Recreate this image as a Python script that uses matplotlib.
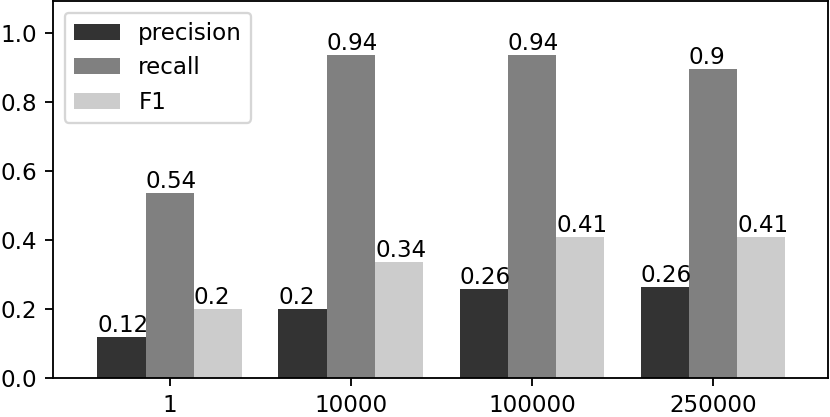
import numpy as np
import matplotlib
matplotlib.use("Agg")
import matplotlib.pyplot as plt

# sample sizes on the x axis
categories = ["1", "10000", "100000", "250000"]

precision = [0.12, 0.2, 0.258, 0.263]
recall = [0.537, 0.937, 0.937, 0.897]
f1 = [0.2, 0.337, 0.409, 0.409]

series = {
    "precision": (precision, "#333333"),
    "recall": (recall, "#808080"),
    "F1": (f1, "#cccccc"),
}

fig = plt.figure(figsize=(830 / 166, 417 / 166), dpi=166)
ax = fig.add_axes([53 / 830, 39 / 417, 775 / 830, 377 / 417])

x = np.arange(len(categories))
width = 0.8 / 3

for i, (name, (vals, color)) in enumerate(series.items()):
    pos = x + (i - 1) * width
    ax.bar(pos, vals, width=width, color=color, label=name)
    for p, v in zip(pos, vals):
        ax.text(p - width / 2, v, f"{round(v, 2)}", ha="left", va="bottom")

ax.set_xticks(x)
ax.set_xticklabels(categories)
ax.set_xlim(-0.645, 3.635)
ax.set_ylim(0, 1.093)
ax.legend(loc="upper left")

fig.savefig("out.png", dpi=166)
